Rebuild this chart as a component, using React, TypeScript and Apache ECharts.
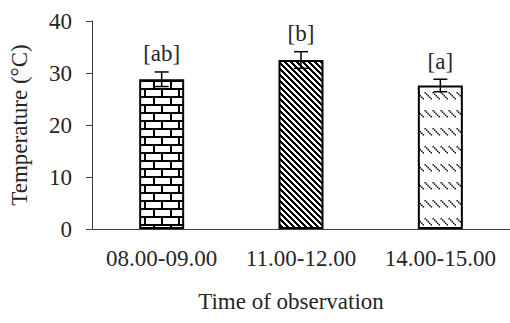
import React, { useEffect, useRef } from "react";
import * as echarts from "echarts";

const categories = ["08.00-09.00", "11.00-12.00", "14.00-15.00"];
const meanTemps = [28.8, 32.5, 27.6];
const errors = [1.4, 1.6, 1.2];
const sigLabels = ["[ab]", "[b]", "[a]"];
const yTicks = [0, 10, 20, 30, 40];

const FONT = "'Liberation Serif', 'Times New Roman', serif";
const FS = 23;

function makeCanvas(w: number, h: number) {
  const c = document.createElement("canvas");
  c.width = w;
  c.height = h;
  const ctx = c.getContext("2d") as CanvasRenderingContext2D;
  ctx.fillStyle = "#fff";
  ctx.fillRect(0, 0, w, h);
  return { c, ctx };
}

function brickPattern() {
  const { c, ctx } = makeCanvas(34, 16);
  ctx.fillStyle = "#000";
  ctx.fillRect(0, 0, 34, 2);
  ctx.fillRect(0, 8, 34, 2);
  ctx.fillRect(0, 0, 2, 8);
  ctx.fillRect(17, 0, 2, 8);
  ctx.fillRect(8, 8, 2, 8);
  ctx.fillRect(25, 8, 2, 8);
  return c;
}

function stripePattern() {
  const n = 6;
  const { c, ctx } = makeCanvas(n, n);
  ctx.fillStyle = "#000";
  for (let x = 0; x < n; x++) {
    for (let y = 0; y < n; y++) {
      if ((((x - y) % n) + n) % n < 3) ctx.fillRect(x, y, 1, 1);
    }
  }
  return c;
}

function dashPattern() {
  const { c, ctx } = makeCanvas(8, 18);
  ctx.fillStyle = "#111";
  for (let k = 0; k < 5; k++) {
    ctx.fillRect(0.5 + k * 1.5, 2 + k * 1.5, 1.5, 1.5);
  }
  return c;
}

export default function App() {
  const ref = useRef<HTMLDivElement>(null);
  useEffect(() => {
    document.body.style.margin = "0";
    if (!ref.current) return;
    const chart = echarts.init(ref.current, undefined, { renderer: "svg" });
    const patterns = [brickPattern(), stripePattern(), dashPattern()];
    const errData = meanTemps.map((v, i) => [i, v + errors[i], v - errors[i]]);
    chart.setOption({
      animation: false,
      backgroundColor: "#fff",
      grid: { left: 92, right: -5, top: 21, bottom: 94 },
      xAxis: {
        type: "category",
        data: categories,
        name: "Time of observation",
        nameLocation: "middle",
        nameGap: 61,
        nameTextStyle: {
          fontFamily: FONT,
          fontSize: FS,
          color: "#262626",
          padding: [0, 20, 0, 0],
        },
        axisLine: { lineStyle: { color: "#404040", width: 1 } },
        axisTick: { show: false },
        axisLabel: {
          fontFamily: FONT,
          fontSize: FS,
          color: "#262626",
          margin: 18,
          interval: 0,
          hideOverlap: false,
        },
      },
      yAxis: {
        type: "value",
        min: yTicks[0],
        max: yTicks[yTicks.length - 1],
        interval: 10,
        name: "Temperature (°C)",
        nameLocation: "middle",
        nameGap: 61,
        nameTextStyle: { fontFamily: FONT, fontSize: FS, color: "#262626" },
        axisLine: { show: true, lineStyle: { color: "#404040", width: 1 } },
        axisTick: { show: true, inside: false, length: 6, lineStyle: { color: "#404040" } },
        splitLine: { show: false },
        axisLabel: { fontFamily: FONT, fontSize: FS, color: "#262626", margin: 20 },
      },
      series: [
        {
          type: "bar",
          barWidth: 45,
          data: meanTemps.map((v, i) => ({
            value: v,
            itemStyle: {
              color: { image: patterns[i], repeat: "repeat" },
              borderColor: "#000",
              borderWidth: 2,
            },
          })),
        },
        {
          type: "custom",
          z: 5,
          encode: { x: 0, y: [1, 2] },
          data: errData,
          renderItem: (params: any, api: any) => {
            const i = params.dataIndex;
            const x = api.value(0);
            const hi = api.coord([x, api.value(1)]);
            const lo = api.coord([x, api.value(2)]);
            const cap = 7;
            const st = { stroke: "#000", lineWidth: 1.5 };
            return {
              type: "group",
              children: [
                { type: "line", shape: { x1: hi[0], y1: hi[1], x2: lo[0], y2: lo[1] }, style: st },
                { type: "line", shape: { x1: hi[0] - cap, y1: hi[1], x2: hi[0] + cap, y2: hi[1] }, style: st },
                { type: "line", shape: { x1: lo[0] - cap, y1: lo[1], x2: lo[0] + cap, y2: lo[1] }, style: st },
                {
                  type: "text",
                  x: hi[0],
                  y: hi[1] - 18,
                  style: {
                    text: sigLabels[i],
                    textAlign: "center",
                    textVerticalAlign: "middle",
                    fontFamily: FONT,
                    fontSize: FS,
                    fill: "#262626",
                  },
                },
              ],
            };
          },
        },
      ],
    });
    return () => chart.dispose();
  }, []);
  return <div ref={ref} style={{ width: 510, height: 323 }} />;
}
